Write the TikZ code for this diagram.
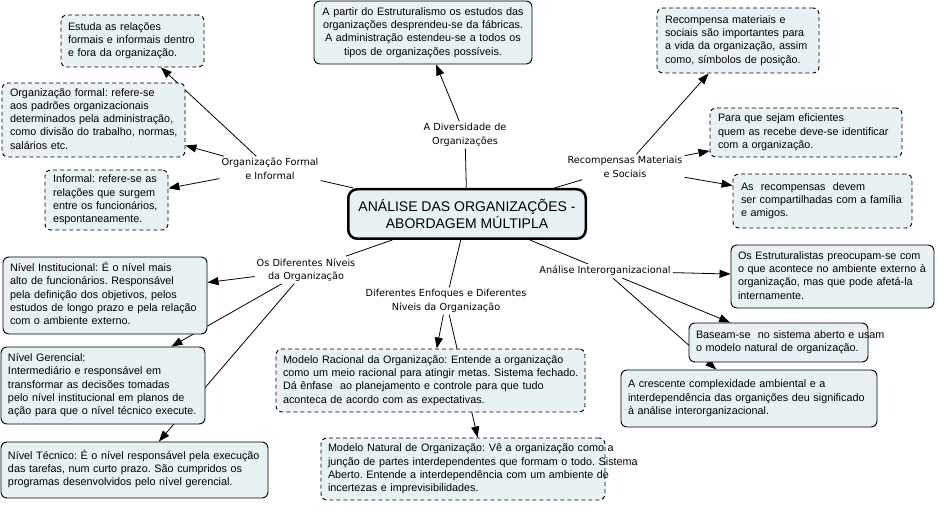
\documentclass[tikz,border=0pt]{standalone}
\usepackage{fontspec}
\usetikzlibrary{arrows.meta}
\newfontfamily\lbsans{Liberation Sans}
\newfontfamily\djsans{DejaVu Sans}
\definecolor{boxfill}{RGB}{232,241,243}
\newcommand\boxfont{\lbsans\fontsize{10.8pt}{13.3pt}\selectfont\frenchspacing}
\newcommand\linkfont{\djsans\fontsize{9.7pt}{13.5pt}\selectfont\frenchspacing}
\newcommand\titlefont{\lbsans\fontsize{14pt}{16.5pt}\selectfont}
\newcommand\lns[1]{\begin{tabular}{@{}l@{}}#1\end{tabular}}
\newcommand\cns[1]{\begin{tabular}{@{}c@{}}#1\end{tabular}}
\pgfdeclarelayer{bg}
\pgfsetlayers{bg,main}
\tikzset{
  concept/.style={draw=black, fill=boxfill, rounded corners=6pt, line width=0.9pt,
    inner xsep=0pt, inner ysep=0pt, font=\boxfont, align=left},
  dconcept/.style={concept, dash pattern=on 4pt off 3pt},
  linkph/.style={font=\linkfont, align=center, inner sep=2pt},
  arr/.style={-{Triangle[length=11pt,width=8pt]}, line width=0.8pt},
  plainln/.style={line width=0.8pt},
}
\begin{document}
\frenchspacing
\begin{tikzpicture}[x=1pt,y=-1pt]
\useasboundingbox (0,0) rectangle (938,508);

% root
\node[draw=black, fill=boxfill, line width=2.5pt, rounded corners=9pt,
  minimum width=237.5pt, minimum height=49.5pt, font=\titlefont, align=center, inner sep=0pt]
  (root) at (467,214) {ANÁLISE DAS ORGANIZAÇÕES -\\ABORDAGEM MÚLTIPLA};

% linking phrases
\node[linkph] (div) at (465,135) {A Diversidade de\\Organizações};
\node[linkph] (orgf) at (270,169) {Organização Formal\\e Informal};
\node[linkph] (rec) at (625,167) {Recompensas Materiais\\e Sociais};
\node[linkph] (niv) at (306,270) {Os Diferentes Níveis\\da Organização};
\node[linkph] (enf) at (446,301) {Diferentes Enfoques e Diferentes\\Níveis da Organização};
\node[linkph] (ana) at (605,271) {Análise Interorganizacional};

% concepts
\node[dconcept, minimum width=143pt, minimum height=52pt, text width=129pt] (b1) at (132.5,41)
  {\lns{Estuda as relações\\formais e informais dentro\\e fora da organização.}};
\node[dconcept, minimum width=183pt, minimum height=74pt, text width=167pt] (b2) at (93.5,120)
  {\lns{Organização formal: refere-se\\aos padrões organizacionais\\determinados pela administração,\\como divisão do trabalho, normas,\\salários etc.}};
\node[dconcept, minimum width=123pt, minimum height=60pt, text width=107pt] (b3) at (106.5,200)
  {\lns{Informal: refere-se as\\relações que surgem\\entre os funcionários,\\espontaneamente.}};
\node[concept, minimum width=218pt, minimum height=63pt, text width=210pt, align=center] (b4) at (423,32.5)
  {\cns{A partir do Estruturalismo os estudos das\\organizações desprendeu-se da fábricas.\\A administração estendeu-se a todos os\\tipos de organizações possíveis.}};
\node[dconcept, minimum width=162pt, minimum height=65pt, text width=146pt] (b5) at (738,40.5)
  {\lns{Recompensa materiais e\\sociais são importantes para\\a vida da organização, assim\\como, símbolos de posição.}};
\node[dconcept, minimum width=192pt, minimum height=49pt, text width=176pt] (b6) at (806,132.5)
  {\lns{Para que sejam eficientes\\quem as recebe deve-se identificar\\com a organização.}};
\node[dconcept, minimum width=179pt, minimum height=54pt, text width=163pt] (b7) at (822.5,201)
  {\lns{As\ \ recompensas\ \ devem\\ser compartilhadas com a família\\e amigos.}};
\node[concept, minimum width=204pt, minimum height=77pt, text width=190pt] (b8) at (105,295.5)
  {\lns{Nível Institucional: É o nível mais\\alto de funcionários. Responsável\\pela definição dos objetivos, pelos\\estudos de longo prazo e pela relação\\com o ambiente externo.}};
\node[concept, minimum width=204pt, minimum height=77pt, text width=190pt] (b9) at (103,385.5)
  {\lns{Nível Gerencial:\\Intermediário e responsável em\\transformar as decisões tomadas\\pelo nível institucional em planos de\\ação para que o nível técnico execute.}};
\node[concept, minimum width=267pt, minimum height=56pt, text width=253pt] (b10) at (134.5,470)
  {\lns{Nível Técnico: É o nível responsável pela execução\\das tarefas, num curto prazo. São cumpridos os\\programas desenvolvidos pelo nível gerencial.}};
\node[dconcept, minimum width=309pt, minimum height=63pt, text width=295pt] (b11) at (430.5,380.5)
  {\lns{Modelo Racional da Organização: Entende a organização\\como um meio racional para atingir metas. Sistema fechado.\\Dá ênfase\ \ ao planejamento e controle para que tudo\\aconteca de acordo com as expectativas.}};
\node[dconcept, minimum width=284pt, minimum height=62pt, text width=270pt] (b12) at (463,469)
  {\lns{Modelo Natural de Organização: Vê a organização como a\\junção de partes interdependentes que formam o todo. Sistema\\Aberto. Entende a interdependência com um ambiente de\\incertezas e imprevisibilidades.}};
\node[concept, minimum width=203pt, minimum height=63pt, text width=189pt] (b13) at (832.5,276.5)
  {\lns{Os Estruturalistas preocupam-se com\\o que acontece no ambiente externo à\\organização, mas que pode afetá-la\\internamente.}};
\node[concept, minimum width=179pt, minimum height=39pt, text width=165pt] (b14) at (778.5,342.5)
  {\lns{Baseam-se\ \ no sistema aberto e usam\\o modelo natural de organização.}};
\node[concept, minimum width=256pt, minimum height=57pt, text width=242pt] (b15) at (749,398.5)
  {\lns{A crescente complexidade ambiental e a\\interdependência das organições deu significado\\à análise interorganizacional.}};

% connectors
\begin{pgfonlayer}{bg}
\draw[plainln] (root) -- (div);
\draw[arr] (div) -- (b4);
\draw[plainln] (root) -- (orgf);
\draw[arr] (orgf) -- (b1);
\draw[arr] (orgf) -- (b2);
\draw[arr] (orgf) -- (b3);
\draw[plainln] (root) -- (rec);
\draw[arr] (rec) -- (b5);
\draw[arr] (rec) -- (b6);
\draw[arr] (rec) -- (b7);
\draw[plainln] (root) -- (niv);
\draw[arr] (niv) -- (b8);
\draw[arr] (niv) -- (b9);
\draw[arr] (niv) -- (b10);
\draw[plainln] (root) -- (enf);
\draw[arr] (enf) -- (b11);
\draw[arr] (enf) -- (b12.65);
\draw[plainln] (root) -- (ana);
\draw[arr] (ana) -- (b13);
\draw[arr] (ana) -- (b14);
\draw[arr] (ana) -- (b15);
\end{pgfonlayer}
\end{tikzpicture}
\end{document}
